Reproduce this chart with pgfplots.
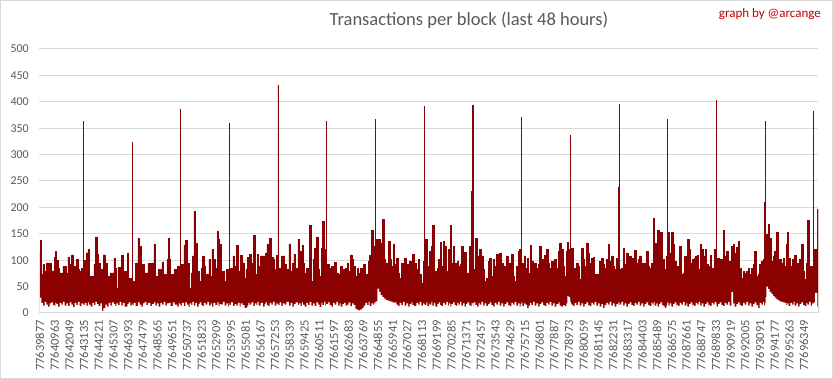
\documentclass[border=0pt]{standalone}
\usepackage{fontspec}
\setmainfont{Carlito}
\usepackage{pgfplots}
\pgfplotsset{compat=1.18}
\usepackage{pgfplotstable}
\definecolor{darkred}{RGB}{139,0,0}
\definecolor{txtgray}{RGB}{89,89,89}
\definecolor{gridgray}{RGB}{217,217,217}
\definecolor{credred}{RGB}{192,0,0}
% X: horizontal position (1 unit = 24.639 blocks), hi/lo: max and min transactions per block
\pgfplotstableread{
X hi lo
0 117 30
1 137 28
4 73 19
9 92 14
14 80 21
19 95 16
24 70 12
29 95 18
34 80 20
39 80 15
44 105 13
46 116 19
49 100 17
54 85 12
59 76 19
64 76 16
69 88 21
74 88 14
79 76 18
84 106 13
89 92 20
94 110 16
99 89 11
104 89 19
109 101 15
114 82 21
119 79 13
124 85 18
129 85 16
130 363 17
131 100 15
134 100 19
139 114 14
144 120 20
147 65 16
152 70 12
157 70 19
162 92 15
166 144 21
171 111 17
176 95 13
181 82 18
186 82 4
190 110 9
196 95 16
201 70 12
206 70 19
211 76 14
216 76 20
222 103 17
226 85 13
229 47 18
234 87 15
239 87 21
244 109 14
249 79 19
254 79 12
262 114 17
266 66 20
271 66 14
276 66 18
277 323 16
278 60 15
281 60 19
287 95 13
294 142 20
299 126 16
304 92 12
309 92 18
314 76 21
319 76 15
324 94 19
331 95 13
336 95 17
342 131 20
346 70 14
351 70 18
356 82 12
361 82 19
366 97 16
371 73 21
376 73 14
381 101 18
386 142 15
387 101 19
392 73 13
399 51 20
404 82 16
412 89 12
417 71 18
420 71 15
421 385 17
422 92 14
426 92 19
432 128 13
436 137 20
441 63 16
446 95 11
449 47 18
454 76 15
457 108 21
462 193 14
466 132 19
471 79 12
476 79 17
479 60 20
484 85 15
487 108 13
492 89 19
497 73 16
502 73 21
507 101 14
512 70 18
516 120 12
520 101 19
526 85 15
532 155 20
536 139 13
539 130 17
544 79 16
549 79 21
554 60 14
559 82 18
564 66 12
567 66 19
568 360 16
569 85 15
573 85 20
579 108 13
584 89 17
589 128 14
594 79 19
599 79 12
602 109 18
608 95 15
614 66 9
618 82 10
622 106 14
625 89 19
629 111 16
634 95 20
640 147 13
645 73 18
649 73 15
652 111 21
656 89 14
662 108 19
669 108 12
674 99 17
677 114 20
681 131 15
685 95 13
689 142 19
694 106 16
699 101 21
704 82 14
709 109 18
713 109 12
714 431 17
715 85 15
719 85 20
724 108 13
729 108 18
734 92 16
739 82 21
747 131 14
752 79 19
757 95 12
762 111 17
767 85 20
774 140 15
777 117 18
782 117 13
786 128 20
789 95 16
794 76 12
799 85 19
804 85 15
809 166 21
814 60 14
819 101 18
824 122 13
829 144 20
834 82 16
839 70 11
844 123 19
847 173 15
852 120 21
856 95 14
858 95 18
859 363 13
860 92 17
864 92 20
869 85 15
874 89 12
879 82 19
884 96 16
889 76 21
894 60 14
899 73 18
902 89 12
907 82 17
912 73 19
917 84 14
922 95 16
926 79 20
931 110 13
936 101 18
941 89 15
946 70 8
951 85 6
956 76 5
961 85 7
966 85 9
971 92 14
976 73 19
981 63 15
986 98 21
989 109 13
994 156 18
999 127 16
1003 70 20
1005 70 18
1006 367 16
1007 139 22
1012 139 46
1017 140 40
1022 133 34
1027 178 30
1032 101 27
1037 95 25
1042 85 24
1045 135 23
1050 101 22
1054 89 21
1060 131 19
1064 92 20
1069 104 16
1074 76 13
1079 66 19
1084 95 15
1089 73 21
1094 104 14
1099 92 18
1104 76 12
1109 98 17
1114 89 20
1117 111 15
1122 95 13
1129 82 19
1134 101 16
1139 73 21
1144 57 14
1149 98 18
1152 98 12
1153 392 17
1154 139 15
1159 139 20
1162 89 13
1167 117 18
1169 117 16
1174 126 21
1177 166 14
1182 57 19
1186 79 12
1192 85 17
1196 101 20
1200 134 15
1204 89 13
1209 136 19
1214 126 16
1219 79 21
1224 120 14
1227 79 18
1231 166 12
1234 95 17
1239 126 20
1244 95 15
1249 85 13
1252 98 19
1256 89 16
1260 93 21
1264 126 14
1269 89 18
1274 115 12
1278 70 17
1282 76 20
1287 126 15
1291 57 13
1295 231 19
1297 231 16
1298 394 18
1299 82 14
1301 82 20
1306 142 15
1311 85 12
1316 108 19
1319 120 16
1324 108 21
1329 82 14
1334 60 18
1339 66 13
1344 98 17
1349 104 20
1354 70 15
1359 101 12
1364 89 19
1369 111 16
1374 70 21
1379 114 14
1384 95 18
1389 79 12
1394 89 17
1399 108 20
1404 76 15
1409 95 13
1414 111 19
1419 70 16
1424 60 21
1429 89 14
1434 117 18
1439 120 12
1442 120 17
1443 371 15
1444 95 20
1447 95 13
1452 108 18
1456 85 16
1461 104 9
1466 76 14
1470 128 19
1474 98 15
1479 82 21
1484 95 14
1489 85 18
1494 92 12
1499 126 17
1504 101 20
1509 89 15
1514 109 13
1519 120 19
1524 95 16
1529 85 21
1534 98 14
1539 79 18
1544 101 12
1549 85 17
1556 117 20
1559 133 14
1564 120 12
1569 89 15
1574 70 13
1579 117 18
1582 134 32
1586 120 30
1590 120 25
1591 337 22
1592 122 19
1594 122 16
1599 66 13
1604 85 19
1609 95 15
1614 89 21
1619 63 14
1624 122 18
1629 101 12
1634 89 17
1639 133 20
1644 114 15
1649 95 13
1654 104 19
1659 106 16
1664 73 21
1669 73 14
1674 73 18
1679 98 12
1684 104 17
1689 92 9
1694 85 15
1699 101 19
1704 130 16
1709 98 21
1714 108 14
1719 89 18
1724 82 12
1729 104 17
1734 239 20
1736 239 15
1737 396 13
1738 82 19
1740 82 16
1744 85 21
1749 123 14
1754 92 18
1759 114 12
1764 92 17
1769 108 20
1774 104 15
1779 82 13
1784 119 19
1789 95 16
1794 101 21
1799 108 14
1804 95 18
1809 82 12
1814 95 17
1819 117 20
1824 89 15
1829 85 13
1834 95 19
1838 92 16
1841 180 21
1844 133 14
1849 108 18
1853 156 12
1857 114 17
1861 152 20
1866 89 15
1870 101 13
1874 82 10
1877 66 9
1879 108 14
1881 108 18
1882 367 16
1883 153 21
1885 153 14
1889 114 18
1894 153 12
1899 130 17
1904 98 20
1909 89 15
1914 85 13
1919 126 19
1924 73 16
1929 76 21
1934 108 14
1939 95 18
1942 140 12
1947 120 17
1952 95 20
1957 101 15
1962 104 13
1967 108 19
1972 109 16
1976 82 21
1980 131 14
1985 120 18
1990 108 12
1995 120 17
2000 92 20
2005 89 15
2010 109 13
2015 85 19
2020 79 16
2024 120 21
2028 120 14
2029 402 18
2030 104 12
2034 104 17
2039 101 20
2044 101 15
2049 156 13
2054 108 19
2059 117 16
2064 92 21
2069 98 14
2074 126 40
2079 130 18
2084 114 12
2089 125 17
2094 135 20
2099 85 15
2104 66 13
2109 79 19
2114 76 16
2119 79 21
2124 85 14
2129 73 18
2134 85 12
2139 92 17
2144 117 20
2149 70 15
2154 73 9
2159 92 19
2164 98 16
2169 101 21
2172 209 14
2175 209 18
2176 363 16
2177 149 30
2179 149 50
2184 168 45
2189 142 40
2194 98 36
2199 108 32
2204 117 29
2209 152 26
2214 95 24
2219 101 22
2224 95 21
2229 104 20
2234 89 19
2239 130 15
2242 152 18
2246 104 13
2251 89 19
2256 101 16
2261 85 21
2264 109 14
2269 95 18
2274 82 12
2279 101 17
2284 130 20
2289 79 15
2294 63 13
2299 95 19
2302 176 16
2307 76 21
2312 89 14
2316 76 18
2319 76 12
2320 383 17
2321 120 20
2325 120 38
2329 79 38
2332 196 12
2334 196 12
}\blocks

\begin{document}
\begin{tikzpicture}
\path[use as bounding box] (0pt,0pt) rectangle (833pt,379pt);
\draw[gridgray, line width=1pt] (0.5pt,0.5pt) rectangle (832.5pt,378.5pt);
\begin{axis}[
  at={(39.3pt,66pt)}, anchor=south west,
  scale only axis, width=778.7pt, height=264pt,
  xmin=-49, xmax=57503, ymin=0, ymax=500,
  scaled x ticks=false, scaled y ticks=false,
  ytick={0,50,...,500},
  xtick={0,1086,...,56472},
  xticklabels={77639877,77640963,77642049,77643135,77644221,77645307,77646393,77647479,77648565,77649651,77650737,77651823,77652909,77653995,77655081,77656167,77657253,77658339,77659425,77660511,77661597,77662683,77663769,77664855,77665941,77667027,77668113,77669199,77670285,77671371,77672457,77673543,77674629,77675715,77676801,77677887,77678973,77680059,77681145,77682231,77683317,77684403,77685489,77686575,77687661,77688747,77689833,77690919,77692005,77693091,77694177,77695263,77696349},
  axis line style={draw=none},
  ymajorgrids, grid style={gridgray, line width=1pt},
  major tick length=0pt,
  tick label style={text=txtgray},
  yticklabel style={font=\fontsize{12}{14}\selectfont},
  yticklabel shift=7pt,
  xticklabel style={font=\fontsize{12.5}{14}\selectfont, rotate=90, anchor=east, inner sep=0pt},
  xticklabel shift=7pt,
  /pgf/number format/assume math mode=true,
]
\addplot[const plot, fill=darkred, draw=darkred, line width=0.5pt] table[x expr=\thisrow{X}*24.639, y=hi] {\blocks} \closedcycle;
\addplot[const plot, fill=white, draw=none] table[x expr=\thisrow{X}*24.639, y=lo] {\blocks} \closedcycle;
\draw[gridgray, line width=1pt] (rel axis cs:0,0) -- (rel axis cs:1,0);
\end{axis}
\node[anchor=base, text=txtgray, font=\fontsize{18.5}{22}\selectfont, inner sep=0pt] at (469pt,353pt) {Transactions per block (last 48 hours)};
\node[anchor=base east, text=credred, font=\fontsize{13}{15}\selectfont, inner sep=0pt] at (821pt,361.7pt) {graph by @arcange};
\end{tikzpicture}
\end{document}
